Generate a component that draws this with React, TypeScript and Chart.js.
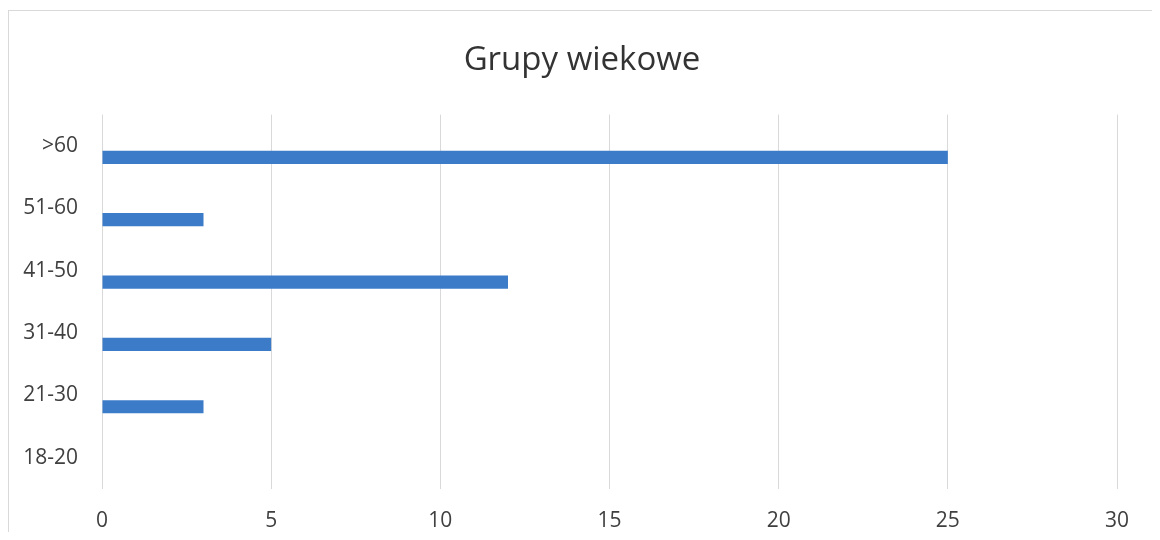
import React, { useEffect, useRef } from "react";
import { Chart, registerables } from "chart.js";

Chart.register(...registerables);

const title = "Grupy wiekowe";
const categories = ["18-20", "21-30", "31-40", "41-50", "51-60", ">60"];
const counts = [0, 3, 5, 12, 3, 25];
const emptySeries = [null, null, null, null, null, null];
const xMin = 0;
const xMax = 30;
const xStep = 5;

export default function App() {
  const ref = useRef<HTMLCanvasElement | null>(null);

  useEffect(() => {
    if (!ref.current) return;
    const chart = new Chart(ref.current, {
      type: "bar",
      data: {
        labels: categories,
        datasets: [
          {
            label: "Seria 2",
            data: emptySeries,
            backgroundColor: "#ED7D31",
            borderWidth: 0,
            categoryPercentage: 0.74,
            barPercentage: 0.57,
          },
          {
            label: "Liczba",
            data: counts,
            backgroundColor: "#3C7BC8",
            borderWidth: 0,
            categoryPercentage: 0.74,
            barPercentage: 0.57,
          },
        ],
      },
      options: {
        indexAxis: "y",
        animation: false,
        responsive: false,
        maintainAspectRatio: false,
        layout: { padding: { left: 0, right: 0, top: 0, bottom: 15 } },
        plugins: {
          legend: { display: false },
          tooltip: { enabled: false },
          title: {
            display: true,
            text: title,
            color: "#333333",
            font: { family: "Open Sans", size: 33, weight: "normal" },
            padding: { top: 30, bottom: 34 },
          },
        },
        scales: {
          x: {
            min: xMin,
            max: xMax,
            ticks: {
              stepSize: xStep,
              color: "#404040",
              padding: 20,
              font: { family: "Open Sans", size: 21 },
            },
            grid: { color: "#d9d9d9", drawTicks: false },
            border: { display: false },
            afterFit: (scale: any) => {
              scale.paddingRight = 38;
            },
          },
          y: {
            reverse: true,
            ticks: {
              color: "#404040",
              padding: 24,
              font: { family: "Open Sans", size: 21 },
            },
            grid: { display: false, drawTicks: false },
            border: { display: false },
            afterFit: (scale: any) => {
              scale.width = 93;
            },
          },
        },
      },
    });
    return () => chart.destroy();
  }, []);

  return (
    <div
      style={{
        height: 524,
        boxSizing: "border-box",
        paddingTop: 2,
        overflow: "hidden",
      }}
    >
      <div
        style={{
          width: 1146,
          height: 558,
          border: "1px solid #d9d9d9",
          background: "#ffffff",
        }}
      >
        <canvas
          ref={ref}
          width={1146}
          height={558}
          style={{ display: "block", width: 1146, height: 558 }}
        />
      </div>
    </div>
  );
}
